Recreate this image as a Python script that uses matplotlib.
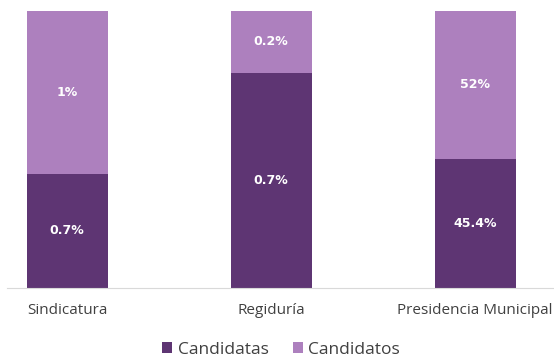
import matplotlib
matplotlib.use("Agg")
import matplotlib.pyplot as plt
import numpy as np

categorias = ["Sindicatura", "Regiduría", "Presidencia Municipal"]
candidatas = [0.7, 0.7, 45.4]
candidatos = [1, 0.2, 52]
etiquetas_candidatas = ["0.7%", "0.7%", "45.4%"]
etiquetas_candidatos = ["1%", "0.2%", "52%"]

c_dark = "#5E3573"
c_light = "#AD80BE"

plt.rcParams['font.family'] = ['Open Sans', 'DejaVu Sans']

fig = plt.figure(figsize=(5.54, 3.58), dpi=100)
ax = fig.add_axes([7/554, 70/358, 547/554, 277/358])

x = np.arange(len(categorias))
a = np.array(candidatas, dtype=float)
b = np.array(candidatos, dtype=float)
tot = a + b
fa = a / tot
fb = b / tot

w = 81/204
ax.bar(x, fa, w, color=c_dark, label="Candidatas")
ax.bar(x, fb, w, bottom=fa, color=c_light, label="Candidatos")

for i in range(len(x)):
    ax.text(x[i], fa[i]/2, etiquetas_candidatas[i], ha='center', va='center',
            color='white', fontsize=9, fontweight='bold', family='DejaVu Sans')
    ax.text(x[i], fa[i] + fb[i]/2, etiquetas_candidatos[i], ha='center', va='center',
            color='white', fontsize=9, fontweight='bold', family='DejaVu Sans')

ax.set_xlim((7-67)/204, (554-67)/204)
ax.set_ylim(0, 1)
ax.set_yticks([])
ax.set_xticks(x)
ax.set_xticklabels(categorias, fontsize=11, color='#404040')
ax.tick_params(axis='x', length=0, pad=11)
for s in ['top', 'left', 'right']:
    ax.spines[s].set_visible(False)
ax.spines['bottom'].set_color('#d9d9d9')

ax.legend(loc='center', bbox_to_anchor=(274/547, (-62)/277), ncol=2, frameon=False,
          fontsize=12.5, handlelength=0.6, handleheight=0.6, handletextpad=0.3,
          columnspacing=1.4, labelcolor='#404040')

fig.savefig("out.png", dpi=100)
